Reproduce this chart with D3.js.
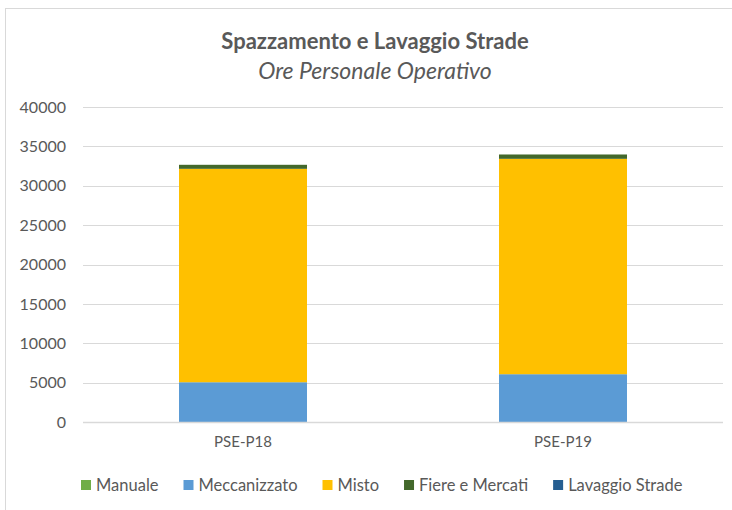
<!DOCTYPE html>
<html>
<head>
<meta charset="utf-8">
<script src="https://cdn.jsdelivr.net/npm/d3@7"></script>
<style>
  body { margin: 0; background: #fff; }
  text { font-family: Lato, "Open Sans", sans-serif; }
</style>
</head>
<body>
<div id="chart-area"></div>
<script>
// data
const categories = ["PSE-P18", "PSE-P19"];
const series = ["Manuale", "Meccanizzato", "Misto", "Fiere e Mercati", "Lavaggio Strade"];
const manuale = [0, 0];
const meccanizzato = [5050, 6070];
const misto = [27100, 27350];
const fiereMercati = [510, 550];
const lavaggioStrade = [0, 0];
const yTicks = [0, 5000, 10000, 15000, 20000, 25000, 30000, 35000, 40000];
const colors = ["#70ad47", "#5b9bd5", "#ffc000", "#43682b", "#255e91"];

const W = 732, H = 510;
const margin = { top: 107, right: 9, bottom: 88, left: 83 };
const width = W - margin.left - margin.right,
	height = H - margin.top - margin.bottom;

const svg = d3.select("#chart-area").append("svg")
	.attr("width", W)
	.attr("height", H);

// chart frame (cut off by the window at right and bottom)
svg.append("rect")
	.attr("x", 5.5).attr("y", 8.5)
	.attr("width", 900).attr("height", 700)
	.attr("fill", "none")
	.attr("stroke", "#d9d9d9");

// titles
svg.append("text")
	.attr("x", 375).attr("y", 49)
	.attr("text-anchor", "middle")
	.attr("font-size", 22)
	.attr("font-weight", "bold")
	.attr("fill", "#595959")
	.text("Spazzamento e Lavaggio Strade");

svg.append("text")
	.attr("x", 375).attr("y", 79)
	.attr("text-anchor", "middle")
	.attr("font-size", 23)
	.attr("font-style", "italic")
	.attr("fill", "#595959")
	.text("Ore Personale Operativo");

const g = svg.append("g")
	.attr("transform", "translate(" + margin.left + "," + margin.top + ")");

// scales
const x = d3.scaleBand()
	.domain(categories)
	.range([0, width])
	.paddingInner(0.6)
	.paddingOuter(0.3);

const y = d3.scaleLinear()
	.domain([0, 40000])
	.range([height, 0]);

// gridlines
g.append("g")
	.selectAll("line")
	.data(yTicks)
	.enter().append("line")
		.attr("x1", 0).attr("x2", width)
		.attr("y1", d => Math.round(y(d)) + 0.5)
		.attr("y2", d => Math.round(y(d)) + 0.5)
		.attr("stroke", "#d9d9d9")
		.attr("stroke-width", 1);

// y axis labels
const yAxisCall = d3.axisLeft(y)
	.tickValues(yTicks)
	.tickFormat(d3.format("d"))
	.tickSize(0)
	.tickPadding(17);
const yAxis = g.append("g").call(yAxisCall);
yAxis.select(".domain").remove();
yAxis.selectAll("text")
	.attr("font-size", 16)
	.attr("fill", "#595959")
	.style("font-family", "Lato, 'Open Sans', sans-serif");

// stacked bars
const rows = categories.map((c, i) => ({
	cat: c,
	"Manuale": manuale[i],
	"Meccanizzato": meccanizzato[i],
	"Misto": misto[i],
	"Fiere e Mercati": fiereMercati[i],
	"Lavaggio Strade": lavaggioStrade[i]
}));
const stack = d3.stack().keys(series)(rows);
const z = d3.scaleOrdinal().domain(series).range(colors);

g.selectAll("g.layer")
	.data(stack)
	.enter().append("g")
		.attr("class", "layer")
		.attr("fill", d => z(d.key))
	.selectAll("rect")
	.data(d => d)
	.enter().append("rect")
		.attr("x", d => x(d.data.cat))
		.attr("width", x.bandwidth())
		.attr("y", d => y(d[1]))
		.attr("height", d => y(d[0]) - y(d[1]));

// x axis
g.append("line")
	.attr("x1", 0).attr("x2", width)
	.attr("y1", height + 0.5).attr("y2", height + 0.5)
	.attr("stroke", "#d9d9d9")
	.attr("stroke-width", 1.5);

g.selectAll("text.cat")
	.data(categories)
	.enter().append("text")
		.attr("class", "cat")
		.attr("x", d => x(d) + x.bandwidth() / 2)
		.attr("y", height + 25)
		.attr("text-anchor", "middle")
		.attr("font-size", 15)
		.attr("fill", "#595959")
		.text(d => d);

// legend
const legend = svg.append("g")
	.attr("transform", "translate(0," + 485 + ")");
let lx = 81;
series.forEach((s, i) => {
	const row = legend.append("g").attr("transform", "translate(" + lx + ",0)");
	row.append("rect")
		.attr("x", 0).attr("y", -5)
		.attr("width", 10).attr("height", 10)
		.attr("fill", colors[i]);
	const t = row.append("text")
		.attr("x", 15).attr("y", 6)
		.attr("font-size", 16.5)
		.attr("fill", "#595959")
		.text(s);
	lx += 15 + t.node().getComputedTextLength() + 25;
});
</script>
</body>
</html>
